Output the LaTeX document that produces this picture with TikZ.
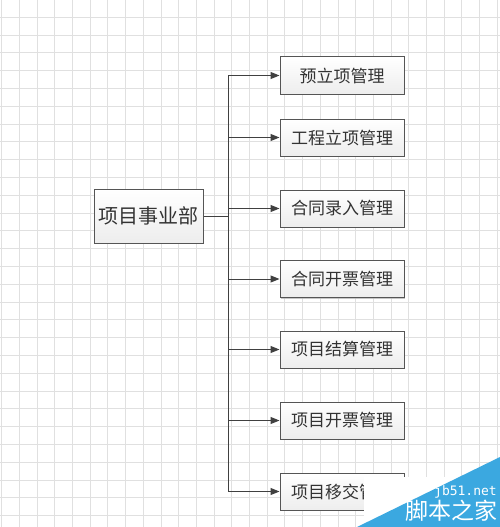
\documentclass[tikz,border=0pt]{standalone}
\usepackage{fontspec}
\setmainfont{Noto Sans CJK SC}
\newfontfamily\wmfont{DejaVu Sans Mono}
\usetikzlibrary{arrows.meta,shadows}
\definecolor{gridc}{HTML}{E0E0E0}
\definecolor{linec}{HTML}{404040}
\definecolor{boxline}{HTML}{555555}
\definecolor{txtc}{HTML}{333333}
\definecolor{wmblue}{HTML}{3BA8E0}
\tikzset{
  box/.style={draw=boxline, line width=1pt, top color=white, bottom color=gray!14,
    drop shadow={shadow xshift=1.2pt, shadow yshift=-1.2pt, fill=gray!55, opacity=0.8},
    minimum width=124pt, minimum height=37pt, inner sep=0pt,
    font=\fontsize{17}{17}\selectfont, text=txtc},
  mainbox/.style={box, minimum width=109pt, minimum height=54pt, font=\fontsize{20}{20}\selectfont},
  conn/.style={draw=linec, line width=1pt},
  arr/.style={conn, -{Triangle[length=9pt,width=7pt]}},
}
\begin{document}
\begin{tikzpicture}[x=1pt,y=-1pt]
\useasboundingbox (0,0) rectangle (500,527);
\fill[white] (0,0) rectangle (500,527);
% grid
\foreach \i in {0,...,28} {
  \draw[gridc, line width=0.9pt] ({1.7+17.7*\i},0) -- ({1.7+17.7*\i},527);
}
\foreach \j in {0,...,29} {
  \draw[gridc, line width=0.9pt] (0,{-0.5+17.8*\j}) -- (500,{-0.5+17.8*\j});
}
% nodes
\node[mainbox] (main) at (148.5,216) {项目事业部};
\node[box] (b1) at (342,75.5) {预立项管理};
\node[box] (b2) at (342,137.5) {工程立项管理};
\node[box] (b3) at (342,208.5) {合同录入管理};
\node[box] (b4) at (342,279) {合同开票管理};
\node[box] (b5) at (342,349.5) {项目结算管理};
\node[box] (b6) at (342,420.5) {项目开票管理};
\node[box] (b7) at (342,491.5) {项目移交管理};
\coordinate (trunk) at (228,216);
% connectors
\draw[conn] (main.east) -- (trunk);
\draw[conn] (b1.west -| trunk) -- (b7.west -| trunk);
\foreach \b in {b1,b2,b3,b4,b5,b6,b7} {
  \draw[arr] (\b.west -| trunk) -- (\b.west);
}
% watermark
\fill[white] (364,477) rectangle (500,527);
\fill[wmblue] (357,527) -- (500,457) -- (500,527) -- cycle;
\node[anchor=east, text=white, font=\wmfont\fontsize{13}{13}\selectfont, inner sep=0pt] (wm1) at (497,492) {jb51.net};
\node[anchor=east, text=white, font=\fontsize{23}{23}\selectfont, inner sep=0pt] (wm2) at (498,511) {脚本之家};
\end{tikzpicture}
\end{document}
